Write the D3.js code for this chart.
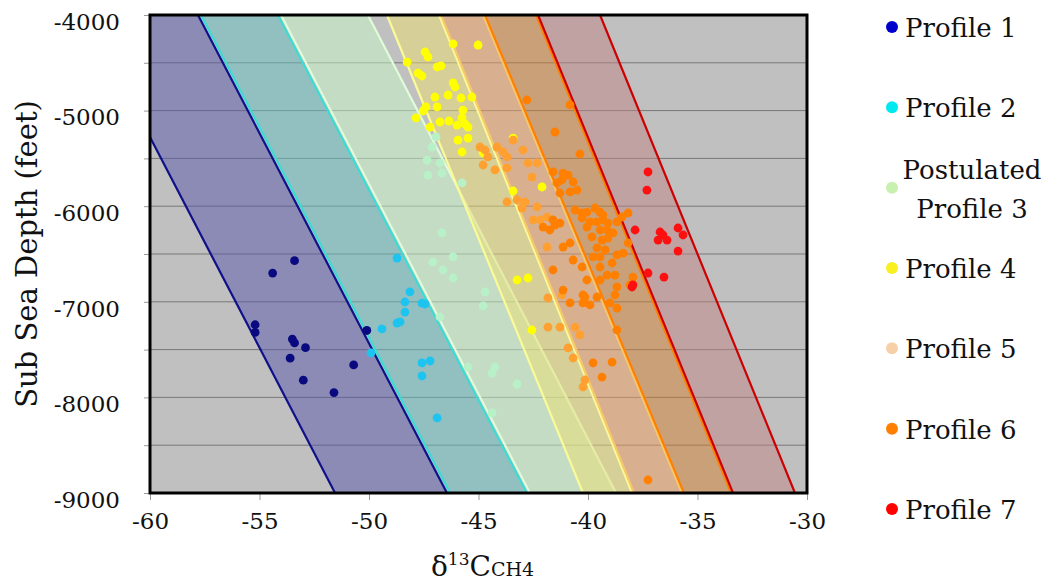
<!DOCTYPE html>
<html>
<head>
<meta charset="utf-8">
<script src="https://cdn.jsdelivr.net/npm/d3@7"></script>
<style>
  body { margin: 0; background: #fff; }
  svg { display: block; font-family: "DejaVu Serif", serif; }
  .tick line { stroke: #9a9a9a; }
  .tick text { font-size: 23px; fill: #111; }
</style>
</head>
<body>
<svg id="chart"></svg>
<script>
var xTicks = [-60, -55, -50, -45, -40, -35, -30];
var yTicks = [-4000, -4500, -5000, -5500, -6000, -6500, -7000, -7500, -8000, -8500, -9000];

// profile bands: x value of each edge at -4000 ft (top) and -9000 ft (bottom)
var bandNames = ["Profile 1", "Profile 2", "Postulated Profile 3", "Profile 4", "Profile 5", "Profile 6", "Profile 7"];
var bandLeftTop     = [-62.9, -57.67, -54.02, -49.18, -46.71, -44.70, -42.28];
var bandRightTop    = [-57.81, -54.16, -50.05, -46.80, -44.79, -42.37, -39.45];
var bandLeftBottom  = [-51.55, -46.30, -42.65, -40.23, -37.90, -35.62, -33.38];
var bandRightBottom = [-46.44, -42.79, -38.72, -37.99, -35.71, -33.47, -30.55];

// measured samples [d13C, depth]
var profile1 = [[-55.2,-7240],[-55.2,-7320],[-54.4,-6700],[-53.4,-6570],[-53.5,-7390],[-53.4,-7430],
  [-52.9,-7480],[-53.6,-7590],[-50.7,-7660],[-53.0,-7820],[-51.6,-7950],[-50.1,-7300]];
var profile2 = [[-48.72,-6542],[-49.41,-7284],[-48.72,-7222],[-49.91,-7535],[-48.36,-7002],[-48.36,-7107],
  [-47.58,-7013],[-47.44,-7023],[-48.58,-7211],[-47.58,-7640],[-47.21,-7619],[-47.58,-7776],
  [-46.89,-8215],[-48.13,-6897]];
var profile3 = [[-47.12,-5381],[-47.35,-5517],[-46.76,-5548],[-46.67,-5653],[-47.31,-5674],[-45.75,-5757],
  [-46.67,-6280],[-47.08,-6584],[-46.16,-6531],[-46.62,-6667],[-46.16,-6751],[-44.70,-6897],
  [-44.79,-7044],[-46.76,-7159],[-45.48,-7682],[-44.25,-7682],[-44.38,-7745],[-43.24,-7860],
  [-44.38,-8163],[-46.94,-5276]];
var profile4 = [[-45.02,-4314],[-47.44,-4387],[-47.31,-4439],[-48.26,-4492],[-46.89,-4544],[-46.71,-4533],
  [-47.76,-4607],[-47.58,-4638],[-46.16,-4711],[-46.07,-4753],[-46.39,-4837],[-45.80,-4868],
  [-45.30,-4858],[-46.99,-4858],[-47.40,-4962],[-46.89,-4962],[-47.53,-5004],[-47.85,-5077],
  [-46.76,-5119],[-46.35,-5109],[-45.75,-5077],[-45.62,-5140],[-45.98,-5151],[-47.21,-5172],
  [-45.48,-5172],[-45.94,-5308],[-45.48,-5287],[-45.75,-5433],[-44.79,-5443],[-43.42,-5287],
  [-42.10,-5799],[-43.42,-5841],[-43.24,-6772],[-42.74,-6751],[-42.56,-7295],[-46.16,-4303],
  [-45.71,-4994]];
var profile5 = [[-44.93,-5381],[-44.70,-5412],[-44.16,-5381],[-43.88,-5433],[-44.57,-5485],[-43.70,-5485],
  [-44.79,-5569],[-44.25,-5621],[-43.70,-5600],[-42.97,-5412],[-42.74,-5548],[-42.33,-5548],
  [-42.56,-5695],[-43.24,-5935],[-43.70,-5956],[-42.88,-5956],[-43.01,-6019],[-42.33,-6008],
  [-42.51,-6144],[-42.19,-6144],[-41.87,-6113],[-41.87,-6427],[-41.83,-6960],[-41.19,-6929],
  [-41.83,-7264],[-41.28,-7264],[-40.59,-7264],[-40.37,-7347],[-40.91,-7483],[-40.68,-7588],
  [-40.14,-7818],[-40.23,-7891],[-43.42,-5308]];
var profile6 = [[-42.79,-4889],[-40.82,-4941],[-41.51,-5224],[-40.37,-5454],[-41.60,-5642],[-41.14,-5653],
  [-40.91,-5674],[-41.19,-5726],[-40.68,-5747],[-41.42,-5757],[-40.82,-5851],[-40.50,-5831],
  [-41.28,-5862],[-40.59,-6040],[-40.27,-6071],[-40.05,-6061],[-39.68,-6019],[-39.45,-6061],
  [-39.32,-6092],[-40.27,-6123],[-39.91,-6165],[-39.59,-6165],[-39.32,-6144],[-39.09,-6176],
  [-38.68,-6165],[-38.45,-6113],[-38.17,-6071],[-40.05,-6218],[-39.45,-6249],[-39.13,-6249],
  [-38.86,-6280],[-39.82,-6322],[-39.36,-6354],[-39.09,-6333],[-39.59,-6437],[-39.22,-6458],
  [-39.45,-6531],[-39.77,-6531],[-38.90,-6594],[-38.68,-6510],[-38.40,-6490],[-38.17,-6385],
  [-39.45,-6636],[-39.13,-6720],[-38.77,-6720],[-37.95,-6741],[-38.08,-6824],[-38.68,-6845],
  [-39.45,-6772],[-39.59,-6950],[-40.14,-6950],[-41.60,-6144],[-41.28,-6176],[-41.74,-6249],
  [-41.51,-6197],[-41.14,-6427],[-40.82,-6385],[-40.68,-6563],[-41.60,-6667],[-40.27,-6636],
  [-40.05,-6772],[-41.14,-6877],[-40.82,-7012],[-40.23,-6929],[-40.23,-7012],[-39.91,-7033],
  [-39.00,-7012],[-38.68,-7065],[-38.77,-6929],[-38.68,-7295],[-39.77,-7640],[-38.90,-7630],
  [-39.36,-7787],[-37.26,-8864],[-42.05,-6218]];
var profile7 = [[-37.26,-5642],[-37.31,-5831],[-37.85,-6249],[-36.71,-6270],[-36.58,-6301],[-36.39,-6354],
  [-36.80,-6354],[-35.89,-6228],[-35.66,-6301],[-35.89,-6469],[-37.26,-6699],[-36.53,-6741],
  [-37.95,-6824],[-37.99,-6845]];

var profiles = [profile1, profile2, profile3, profile4, profile5, profile6, profile7];

var bandFill   = ["#5856aa", "#64c0c0", "#c8f8c8", "#ecde70", "#f0a060", "#d28030", "#c08484"];
var bandStroke = ["#10108a", "#3cdcd4", "#e0fbd8", "#fafa98", "#f8c868", "#ff8000", "#cc0000"];
var dotColor   = ["#0a0a80", "#1ec4f0", "#b8f0c8", "#ffff00", "#ffa030", "#ff8000", "#ff1010"];
var legendColor = ["#0000cc", "#00e8f0", "#c8f0b0", "#f8f020", "#f8d0a8", "#ff8000", "#ff0000"];

var margin = {top: 15, right: 237, bottom: 89, left: 150};
var width = 1044 - margin.left - margin.right;
var height = 582 - margin.top - margin.bottom;

var svg = d3.select("#chart").attr("width", 1044).attr("height", 582);
var chart = svg.append("g")
  .attr("transform", "translate(" + margin.left + "," + margin.top + ")");

var x = d3.scaleLinear().domain([-60, -30]).range([0, width]);
var y = d3.scaleLinear().domain([-9000, -4000]).range([height, 0]);

chart.append("clipPath").attr("id", "plotClip")
  .append("rect").attr("width", width).attr("height", height);

chart.append("rect")
  .attr("width", width).attr("height", height)
  .attr("fill", "#c0c0c0");

// gridlines
chart.append("g").selectAll("line")
  .data(yTicks.slice(1, -1))
  .enter().append("line")
  .attr("x1", 0).attr("x2", width)
  .attr("y1", function(d) { return y(d); })
  .attr("y2", function(d) { return y(d); })
  .attr("stroke", "#787878").attr("stroke-width", 1);

// bands
var bands = chart.append("g").attr("clip-path", "url(#plotClip)");
bandNames.forEach(function(name, i) {
  var pts = [[bandLeftTop[i], -4000], [bandRightTop[i], -4000],
             [bandRightBottom[i], -9000], [bandLeftBottom[i], -9000]];
  bands.append("polygon")
    .attr("points", pts.map(function(p) { return x(p[0]) + "," + y(p[1]); }).join(" "))
    .attr("fill", bandFill[i]).attr("fill-opacity", 0.5);
  [[bandLeftTop[i], bandLeftBottom[i]], [bandRightTop[i], bandRightBottom[i]]].forEach(function(e) {
    bands.append("line")
      .attr("x1", x(e[0])).attr("y1", y(-4000))
      .attr("x2", x(e[1])).attr("y2", y(-9000))
      .attr("stroke", bandStroke[i]).attr("stroke-width", 2.2);
  });
});

// sample points
profiles.forEach(function(data, i) {
  chart.append("g").selectAll("circle")
    .data(data)
    .enter().append("circle")
    .attr("cx", function(d) { return x(d[0]); })
    .attr("cy", function(d) { return y(d[1]); })
    .attr("r", 4.4)
    .attr("fill", dotColor[i]);
});

// axes
var xAxis = chart.append("g")
  .attr("transform", "translate(0," + height + ")")
  .call(d3.axisBottom(x).tickValues(xTicks).tickSize(7).tickPadding(13)
    .tickFormat(function(d) { return String(d); }));
xAxis.select(".domain").remove();

var yAxis = chart.append("g")
  .call(d3.axisLeft(y).tickValues(yTicks).tickSize(6).tickPadding(24)
    .tickFormat(function(d) { return d % 1000 === 0 ? String(d) : ""; }));
yAxis.select(".domain").remove();
yAxis.selectAll("text").attr("dy", "0.62em");

xAxis.attr("font-family", "DejaVu Serif");
yAxis.attr("font-family", "DejaVu Serif");

chart.append("rect")
  .attr("width", width).attr("height", height)
  .attr("fill", "none").attr("stroke", "#000").attr("stroke-width", 3);

// axis titles
var xTitle = svg.append("text")
  .attr("x", 431).attr("y", 576)
  .attr("font-size", 28).attr("fill", "#111");
xTitle.append("tspan").text("\u03B4");
xTitle.append("tspan").attr("font-size", 17).attr("dy", -11).text("13");
xTitle.append("tspan").attr("dy", 11).text("C");
xTitle.append("tspan").attr("font-size", 19).text("CH4");

svg.append("text")
  .attr("transform", "translate(37,254) rotate(-90)")
  .attr("text-anchor", "middle")
  .attr("font-size", 29).attr("fill", "#111")
  .text("Sub Sea Depth (feet)");

// legend
var ly = d3.scalePoint().domain(bandNames).range([27, 509]);
var legend = svg.append("g");
bandNames.forEach(function(name, i) {
  var cy = ly(name);
  legend.append("circle")
    .attr("cx", 892).attr("cy", cy).attr("r", 6)
    .attr("fill", legendColor[i]);
  if (name.indexOf("Postulated") === 0) {
    legend.append("text").attr("x", 972).attr("y", cy - 9)
      .attr("text-anchor", "middle").attr("font-size", 26).attr("fill", "#111")
      .text("Postulated");
    legend.append("text").attr("x", 972).attr("y", cy + 30)
      .attr("text-anchor", "middle").attr("font-size", 26).attr("fill", "#111")
      .text("Profile 3");
  } else {
    legend.append("text").attr("x", 905).attr("y", cy + 10)
      .attr("font-size", 26).attr("fill", "#111")
      .text(name);
  }
});
</script>
</body>
</html>
